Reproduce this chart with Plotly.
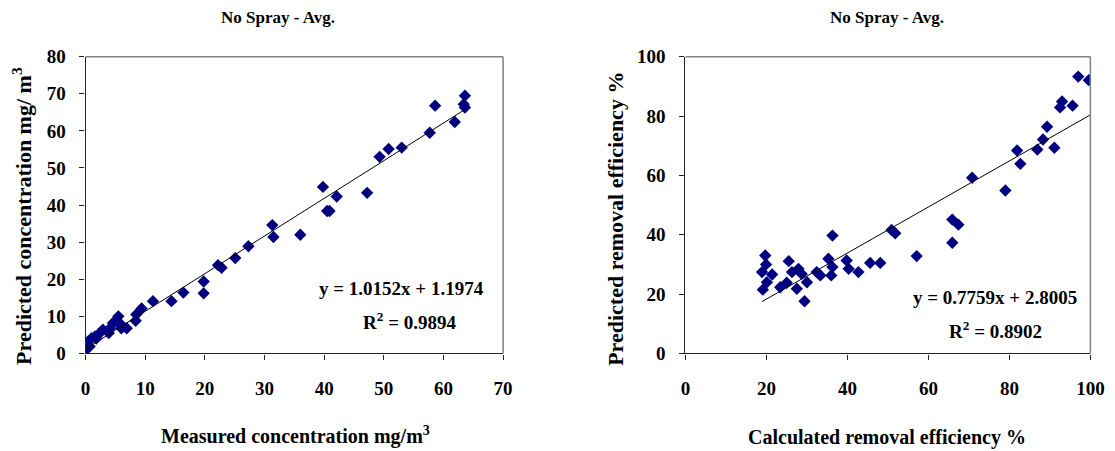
import plotly.graph_objects as go

# Left panel: measured vs predicted concentration (mg/m3)
measured_conc = [63.6, 63.4, 63.6, 58.6, 61.9, 57.7, 53.0, 50.8, 49.3, 47.2, 42.1, 40.9,
                 39.8, 40.5, 31.3, 31.5, 36.0, 27.3, 25.1, 22.2, 22.8, 19.8, 19.8, 16.4,
                 14.4, 11.3, 9.4, 8.5, 8.4, 6.9, 5.5, 5.2, 5.7, 4.6, 6.0, 3.9, 2.9, 2.4,
                 1.6, 1.0, 0.4, 0.7, 0.0, 4.1, 1.8]
predicted_conc = [69.5, 67.2, 66.3, 66.8, 62.4, 59.5, 55.5, 55.1, 53.0, 43.3, 42.3, 38.4,
                  44.9, 38.4, 34.6, 31.4, 32.0, 28.9, 25.7, 23.8, 23.1, 19.4, 16.2, 16.4,
                  14.1, 14.1, 12.1, 10.5, 8.8, 6.8, 10.0, 8.6, 8.2, 8.2, 6.8, 5.5, 6.4, 5.5,
                  4.6, 4.1, 3.2, 1.9, 0.8, 6.8, 4.0]
conc_slope, conc_intercept, conc_r2 = 1.0152, 1.1974, 0.9894

# Right panel: calculated vs predicted removal efficiency (%)
calc_eff = [97.0, 99.6, 93.0, 92.5, 95.6, 89.3, 88.3, 86.9, 91.1, 81.9, 82.7, 70.8, 79.0,
            65.9, 67.4, 65.9, 50.9, 51.8, 57.1, 48.1, 45.6, 42.7, 36.3, 19.7, 19.9, 18.9,
            21.4, 20.1, 19.1, 25.5, 26.3, 27.9, 28.7, 25.0, 23.4, 27.5, 30.0, 29.4, 32.4,
            33.3, 35.3, 36.3, 36.0, 39.8, 40.3]
pred_eff = [93.3, 92.1, 84.9, 82.9, 83.5, 76.4, 72.1, 68.7, 69.3, 68.4, 63.9, 59.2, 54.9,
            45.1, 43.4, 37.3, 41.6, 40.5, 32.8, 30.5, 30.5, 27.4, 39.7, 33.0, 30.0, 27.4,
            26.6, 24.0, 21.5, 31.1, 27.4, 28.5, 26.8, 23.8, 22.3, 21.8, 24.0, 17.6, 27.4,
            26.3, 31.9, 29.1, 26.3, 31.3, 28.5]
eff_slope, eff_intercept, eff_r2 = 0.7759, 2.8005, 0.8902

W, H = 1135, 475
FONT = "Liberation Serif, Times New Roman, serif"
NAVY = "#000080"

# layout helpers: convert a screen position into figure fractions
SX, OX = 0.985, 5.0
SY, OY = 0.956, 9.0


def px_x(p):
    return (p - OX) / SX / W


def px_y(p):
    return 1 - (p - OY) / SY / H


fig = go.Figure()

# scatter + fitted line, left panel
fig.add_trace(go.Scatter(x=measured_conc, y=predicted_conc, mode="markers",
                         marker=dict(symbol="diamond", size=9.5, color=NAVY,
                                     line=dict(width=0)),
                         xaxis="x", yaxis="y", showlegend=False))
cx = [min(measured_conc), max(measured_conc)]
fig.add_trace(go.Scatter(x=cx, y=[conc_slope * v + conc_intercept for v in cx],
                         mode="lines", line=dict(color="black", width=1),
                         xaxis="x", yaxis="y", showlegend=False))

# scatter + fitted line, right panel
fig.add_trace(go.Scatter(x=calc_eff, y=pred_eff, mode="markers",
                         marker=dict(symbol="diamond", size=9.5, color=NAVY,
                                     line=dict(width=0)),
                         xaxis="x2", yaxis="y2", showlegend=False))
ex = [min(calc_eff), 100]
fig.add_trace(go.Scatter(x=ex, y=[eff_slope * v + eff_intercept for v in ex],
                         mode="lines", line=dict(color="black", width=1),
                         xaxis="x2", yaxis="y2", showlegend=False))

tickfont = dict(family=FONT, size=19, color="black", weight="bold")
common = dict(showgrid=False, zeroline=False, showline=True, linecolor="#222222",
              linewidth=1.2, ticks="outside", ticklen=5, tickcolor="#222222",
              tickfont=tickfont)

y_dom = [px_y(352.5), px_y(55.7)]
fig.update_layout(
    width=W, height=H,
    margin=dict(l=0, r=0, t=0, b=0),
    paper_bgcolor="white", plot_bgcolor="white",
    xaxis=dict(domain=[px_x(85.7), px_x(504)], range=[0, 70], tickvals=list(range(0, 71, 10)),
               anchor="y", ticklabelstandoff=13, **common),
    yaxis=dict(domain=y_dom, range=[0, 80], tickvals=list(range(0, 81, 10)),
               anchor="x", ticklabelstandoff=10, **common),
    xaxis2=dict(domain=[px_x(686.7), px_x(1092.3)], range=[0, 100],
                tickvals=list(range(0, 101, 20)), anchor="y2", ticklabelstandoff=13, **common),
    yaxis2=dict(domain=y_dom, range=[0, 100], tickvals=list(range(0, 101, 20)),
                anchor="x2", ticklabelstandoff=10, **common),
)

# grey top/right frame of each plot area
for xr, yr in (("x", "y"), ("x2", "y2")):
    fig.add_shape(type="line", xref=f"{xr} domain", yref=f"{yr} domain",
                  x0=0, x1=1, y0=1, y1=1, line=dict(color="#808080", width=1.5))
    fig.add_shape(type="line", xref=f"{xr} domain", yref=f"{yr} domain",
                  x0=1, x1=1, y0=0, y1=1, line=dict(color="#808080", width=1.5))


def note(text, x, y, size=16, angle=0):
    fig.add_annotation(text=text, x=px_x(x), y=px_y(y), xref="paper", yref="paper",
                       showarrow=False, textangle=angle, xanchor="center", yanchor="middle",
                       font=dict(family=FONT, size=size, color="black", weight="bold"))


note("No Spray - Avg.", 278, 17, 17)
note("No Spray - Avg.", 889, 17, 17)
note("Measured concentration mg/m<sup>3</sup>", 296, 435, 20)
note("Calculated removal efficiency %", 889, 437, 20)
note("Predicted concentration mg/ m<sup>3</sup>", 22, 215, 22, -90)
note("Predicted removal efficiency %", 617, 218, 22, -90)

note(f"y = {conc_slope:.4f}x + {conc_intercept:.4f}", 402, 288, 19)
note(f"R<sup>2</sup> = {conc_r2:.4f}", 410, 320, 19)
note(f"y = {eff_slope:.4f}x + {eff_intercept:.4f}", 997, 297, 19)
note(f"R<sup>2</sup> = {eff_r2:.4f}", 997, 329, 19)

fig.write_html("out.html")
